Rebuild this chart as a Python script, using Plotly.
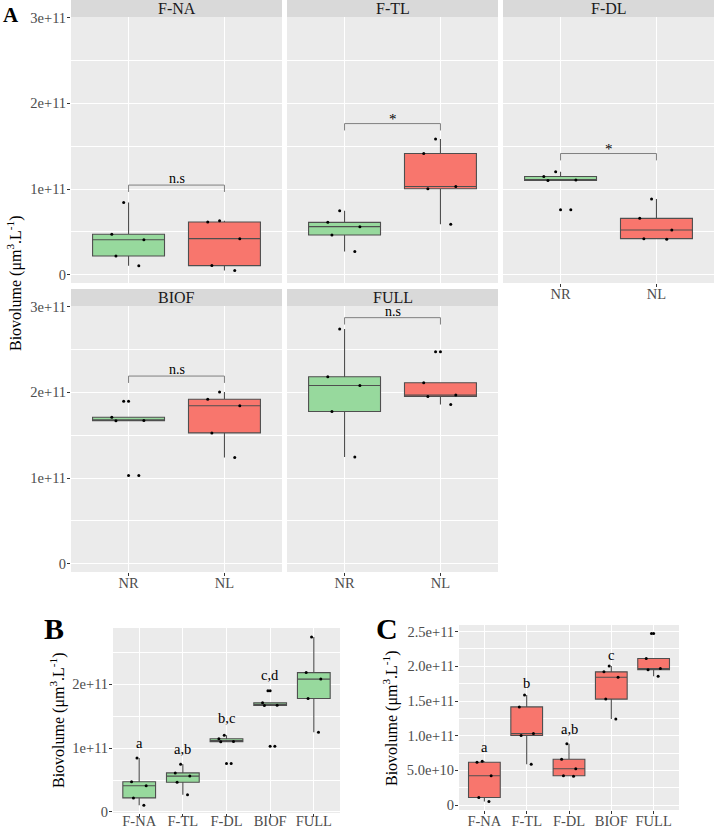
import plotly.graph_objects as go

W, H = 714, 828
SC = 1e11  # values below are in units of 1e11 µm3/L

GROUPS = ["F-NA", "F-TL", "F-DL", "BIOF", "FULL"]
TREATMENTS = ["NR", "NL"]

NR_F_NA = [0.105, 0.22, 0.41, 0.473, 0.845]
NR_F_TL = [0.271, 0.465, 0.562, 0.612, 0.748]
NR_F_DL = [0.76, 1.101, 1.105, 1.147, 1.202]
NR_BIOF = [1.03, 1.668, 1.672, 1.71, 1.897]
NR_FULL = [1.247, 1.777, 2.08, 2.182, 2.739]

NL_F_NA = [0.05, 0.108, 0.422, 0.616, 0.632]
NL_F_TL = [0.589, 1.004, 1.031, 1.415, 1.585]
NL_F_DL = [0.415, 0.422, 0.523, 0.659, 0.884]
NL_BIOF = [1.239, 1.527, 1.843, 1.92, 2.003]
NL_FULL = [1.858, 1.952, 1.968, 2.112, 2.474]

NR_ALL = [NR_F_NA, NR_F_TL, NR_F_DL, NR_BIOF, NR_FULL]
NL_ALL = [NL_F_NA, NL_F_TL, NL_F_DL, NL_BIOF, NL_FULL]

BRACKET_Y = [1.047, 1.764, 1.415, 2.19, 2.871]
BRACKET_LABELS = ["n.s", "*", "*", "n.s", "n.s"]

LETTERS_NR = ["a", "a,b", "b,c", "c,d", "d"]
LETTERS_NR_Y = [1.075, 0.98, 1.475, 2.15, 2.90]
LETTERS_NL = ["a", "b", "a,b", "c", "c"]
LETTERS_NL_Y = [0.837, 1.756, 1.09, 2.167, 2.617]

A_TICKS = [0, 1, 2, 3]
A_TICKTEXT = ["0", "1e+11", "2e+11", "3e+11"]
B_TICKS = [0, 1, 2]
B_TICKTEXT = ["0", "1e+11", "2e+11"]
C_TICKS = [0, 0.5, 1.0, 1.5, 2.0, 2.5]
C_TICKTEXT = ["0", "5.0e+10", "1.0e+11", "1.5e+11", "2.0e+11", "2.5e+11"]

# ---------------- style ----------------
GREEN = "#97D99D"
RED = "#F8766D"
BOX_LINE = "#4F4F4F"
BG = "#EBEBEB"
STRIP = "#D9D9D9"
FONT = "Liberation Serif"
TICKCOL = "#4D4D4D"
TIP = 0.08

def dx(a, b):
    return [a / W, b / W]

def dy(top, bottom):
    return [1 - bottom / H, 1 - top / H]

def px(x):
    return x / W

def py(y):
    return 1 - y / H

# panel layout in pixels: (x0, x1, y_top, y_bottom)
PANELS = [
    (71, 282, 17, 283),
    (287, 498, 17, 283),
    (503, 714, 17, 283),
    (71, 282, 306, 572),
    (287, 498, 306, 572),
    (113, 340, 628, 813),
    (459, 679, 625, 810),
]
STRIPS = [(71, 282, 0, 17), (287, 498, 0, 17), (503, 714, 0, 17),
          (71, 282, 289, 306), (287, 498, 289, 306)]

fig = go.Figure()


def add_box(vals, xpos, color, i):
    xa = "x" if i == 1 else f"x{i}"
    ya = "y" if i == 1 else f"y{i}"
    y = [v * SC for v in vals]
    x = [xpos] * len(vals)
    fig.add_trace(go.Box(
        x=x, y=y, xaxis=xa, yaxis=ya, width=0.75, fillcolor=color,
        line=dict(color=BOX_LINE, width=1.1), whiskerwidth=0,
        boxpoints="outliers", pointpos=0, jitter=0,
        marker=dict(color="black", size=3), quartilemethod="inclusive",
        showlegend=False, hoverinfo="skip"))
    fig.add_trace(go.Box(
        x=x, y=y, xaxis=xa, yaxis=ya, width=0.75,
        fillcolor="rgba(0,0,0,0)", line=dict(color="rgba(0,0,0,0)", width=0),
        whiskerwidth=0, boxpoints="all", pointpos=0, jitter=0.55,
        marker=dict(color="black", size=3), quartilemethod="inclusive",
        showlegend=False, hoverinfo="skip"))


# Panel A facets (1..5)
for g in range(5):
    i = g + 1
    add_box(NR_ALL[g], 1, GREEN, i)
    add_box(NL_ALL[g], 2, RED, i)

# Panel B (NR) and C (NL)
for g in range(5):
    add_box(NR_ALL[g], g + 1, GREEN, 6)
for g in range(5):
    add_box(NL_ALL[g], g + 1, RED, 7)

layout = dict(
    width=W, height=H,
    margin=dict(l=0, r=0, t=0, b=0, pad=0, autoexpand=False),
    paper_bgcolor="white", plot_bgcolor=BG, boxmode="overlay",
    showlegend=False, font=dict(family=FONT, color="black"),
)

tickfont = dict(family=FONT, size=14.5, color=TICKCOL)

for idx, (x0, x1, yt, yb) in enumerate(PANELS):
    i = idx + 1
    sx = "" if i == 1 else str(i)
    if i <= 5:
        xr = [0.4, 2.6]
        xvals = [1, 2]
        xtext = TREATMENTS
        yr = [-0.095 * SC, 3.007 * SC]
        yvals = A_TICKS
        ytext = A_TICKTEXT
        minor_step = 0.5
        show_x = i in (3, 4, 5)
        show_y = i in (1, 4)
        xstand = -5
    elif i == 6:
        xr = [0.4, 5.6]
        xvals = [1, 2, 3, 4, 5]
        xtext = GROUPS
        yr = [-0.016 * SC, 2.88 * SC]
        yvals = B_TICKS
        ytext = B_TICKTEXT
        minor_step = 0.5
        show_x = show_y = True
        xstand = -8
    else:
        xr = [0.4, 5.6]
        xvals = [1, 2, 3, 4, 5]
        xtext = GROUPS
        yr = [-0.072 * SC, 2.596 * SC]
        yvals = C_TICKS
        ytext = C_TICKTEXT
        minor_step = 0.25
        show_x = show_y = True
        xstand = -5
    hi = yr[1] / SC
    minor_vals = []
    k = 0
    while k * minor_step <= hi:
        v = k * minor_step
        if all(abs(v - t) > 1e-9 for t in yvals):
            minor_vals.append(v * SC)
        k += 1
    layout["xaxis" + sx] = dict(
        domain=dx(x0, x1), range=xr, anchor="y" + sx, automargin=False,
        tickmode="array", tickvals=xvals, ticktext=xtext,
        showgrid=True, gridcolor="white", gridwidth=1.2, zeroline=False,
        showline=False, ticks="outside" if show_x else "", ticklen=3,
        tickcolor="#333333", tickwidth=1, showticklabels=show_x,
        ticklabelstandoff=xstand, tickfont=tickfont, fixedrange=True)
    layout["yaxis" + sx] = dict(
        domain=dy(yt, yb), range=yr, anchor="x" + sx, automargin=False,
        tickmode="array", tickvals=[v * SC for v in yvals], ticktext=ytext,
        showgrid=True, gridcolor="white", gridwidth=1.2, zeroline=False,
        showline=False, ticks="outside" if show_y else "", ticklen=3,
        tickcolor="#333333", tickwidth=1, showticklabels=show_y,
        ticklabelstandoff=-2, tickfont=tickfont, fixedrange=True,
        minor=dict(tickmode="array", tickvals=minor_vals, showgrid=True,
                   gridcolor="white", gridwidth=0.6, ticks=""))

shapes = []
annotations = []

# strips
for (x0, x1, yt, yb), name in zip(STRIPS, GROUPS):
    shapes.append(dict(type="rect", xref="paper", yref="paper",
                       x0=px(x0), x1=px(x1), y0=py(yb), y1=py(yt),
                       fillcolor=STRIP, line=dict(width=0), layer="below"))
    annotations.append(dict(xref="paper", yref="paper", x=px((x0 + x1) / 2),
                            y=py((yt + yb) / 2), text=name, showarrow=False,
                            xanchor="center", yanchor="middle",
                            font=dict(family=FONT, size=16, color="#1A1A1A")))

# brackets
for g in range(5):
    i = g + 1
    sx = "" if i == 1 else str(i)
    by = BRACKET_Y[g]
    path = (f"M1,{(by - TIP) * SC} L1,{by * SC} L2,{by * SC} "
            f"L2,{(by - TIP) * SC}")
    shapes.append(dict(type="path", path=path, xref="x" + sx, yref="y" + sx,
                       line=dict(color="#7F7F7F", width=1)))
    lab = BRACKET_LABELS[g]
    annotations.append(dict(xref="x" + sx, yref="y" + sx, x=1.5, y=by * SC,
                            text=lab, showarrow=False, xanchor="center",
                            yanchor="bottom", yshift=-5 if lab == "*" else -3,
                            font=dict(family=FONT, size=15 if lab == "*" else 14,
                                      color="black")))

# significance letters
for g in range(5):
    annotations.append(dict(xref="x6", yref="y6", x=g + 1, y=LETTERS_NR_Y[g] * SC,
                            text=LETTERS_NR[g], showarrow=False,
                            yanchor="middle",
                            font=dict(family=FONT, size=14.5, color="black")))
    annotations.append(dict(xref="x7", yref="y7", x=g + 1, y=LETTERS_NL_Y[g] * SC,
                            text=LETTERS_NL[g], showarrow=False,
                            yanchor="middle",
                            font=dict(family=FONT, size=14.5, color="black")))

YTITLE = "Biovolume (μm<sup>3</sup>.L<sup>-1</sup>)"
for (xx, yy) in [(15, 283), (57, 720), (390, 718)]:
    annotations.append(dict(xref="paper", yref="paper", x=px(xx), y=py(yy),
                            text=YTITLE, textangle=-90, showarrow=False,
                            xanchor="center", yanchor="middle",
                            font=dict(family=FONT, size=16, color="black")))

for (txt, xx, yy, sz) in [("A", 11, 15, 21), ("B", 54, 628, 30), ("C", 387, 628, 30)]:
    annotations.append(dict(xref="paper", yref="paper", x=px(xx), y=py(yy),
                            text=f"<b>{txt}</b>", showarrow=False,
                            xanchor="center", yanchor="middle",
                            font=dict(family=FONT, size=sz, color="black")))

layout["shapes"] = shapes
layout["annotations"] = annotations
fig.update_layout(**layout)

fig.write_html("out.html")
